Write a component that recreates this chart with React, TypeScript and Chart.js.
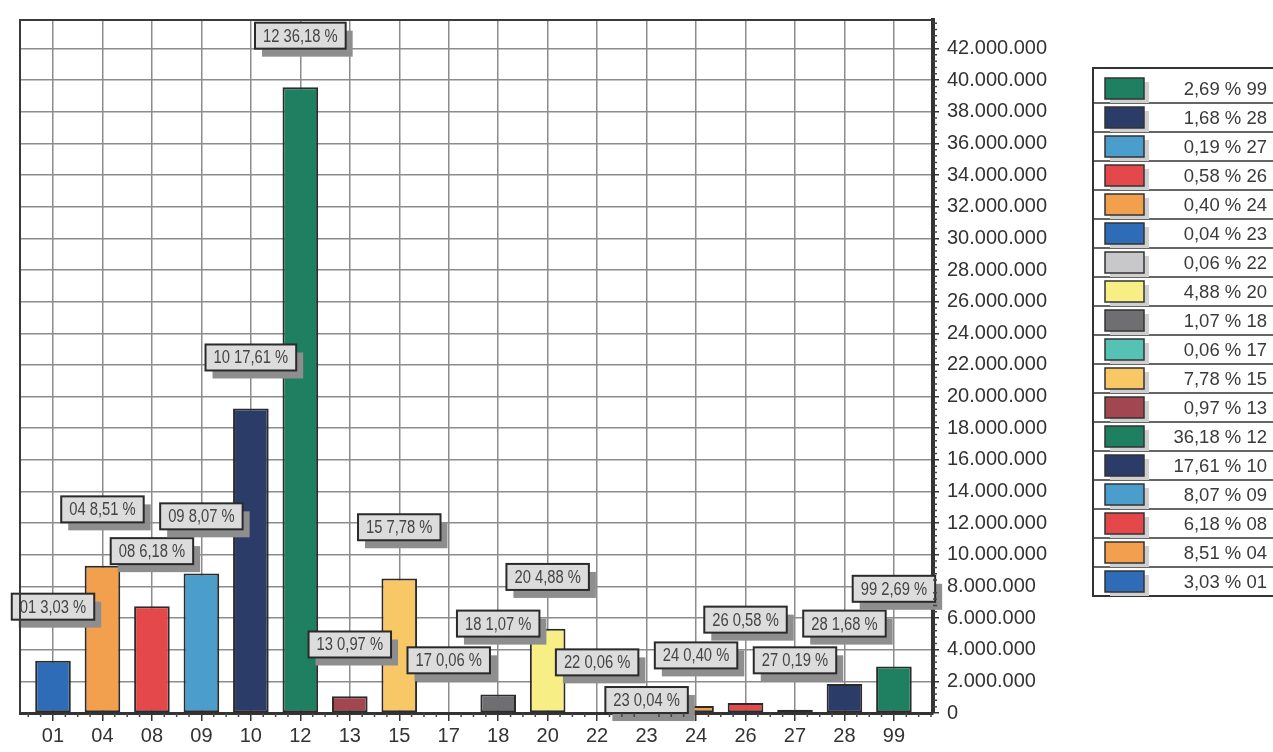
import React, { useEffect, useRef } from "react";
import { Chart, registerables } from "chart.js";
Chart.register(...registerables);

const categories = ["01", "04", "08", "09", "10", "12", "13", "15", "17", "18", "20", "22", "23", "24", "26", "27", "28", "99"];
const values = [3310000, 9300000, 6750000, 8820000, 19250000, 39550000, 1060000, 8500000, 66000, 1170000, 5330000, 66000, 44000, 437000, 634000, 208000, 1840000, 2940000];
const percentLabels = ["3,03", "8,51", "6,18", "8,07", "17,61", "36,18", "0,97", "7,78", "0,06", "1,07", "4,88", "0,06", "0,04", "0,40", "0,58", "0,19", "1,68", "2,69"];
const barColors = ["#2f6cb8", "#f2a04e", "#e5484b", "#4b9dcc", "#2c3c69", "#1f7f61", "#a2464f", "#f8c866", "#55c2b3", "#6f6f72", "#f7ef86", "#c8c8ca", "#2f6cb8", "#f2a04e", "#e5484b", "#4b9dcc", "#2c3c69", "#1f7f61"];
const yTickValues = [0, 2000000, 4000000, 6000000, 8000000, 10000000, 12000000, 14000000, 16000000, 18000000, 20000000, 22000000, 24000000, 26000000, 28000000, 30000000, 32000000, 34000000, 36000000, 38000000, 40000000, 42000000];
// vertical placement of each value box, in axis units
const labelLevels = [6720000, 12870000, 10230000, 12430000, 22470000, 42810000, 4330000, 11740000, 3330000, 5650000, 8600000, 3200000, 820000, 3640000, 5900000, 3330000, 5650000, 7850000];

const W = 1273;
const H = 752;
const AXIS_FONT = "'Liberation Sans', Arial, Helvetica, sans-serif";
const NARROW = 0.82;

function fmt(v: number): string {
  return String(Math.round(v)).replace(/\B(?=(\d{3})+(?!\d))/g, ".");
}

const decorPlugin = {
  id: "decor",
  afterDatasetsDraw(chart: any) {
    const ctx = chart.ctx as CanvasRenderingContext2D;
    const xs = chart.scales.x;
    const ys = chart.scales.y;
    ctx.save();
    ctx.font = "18px " + AXIS_FONT;
    ctx.textAlign = "center";
    ctx.textBaseline = "middle";
    categories.forEach((c, i) => {
      const text = c + " " + percentLabels[i] + " %";
      const tw = ctx.measureText(text).width * NARROW;
      const bw = tw + 16;
      const bh = 26;
      const cx = xs.getPixelForValue(i);
      const cy = ys.getPixelForValue(labelLevels[i]);
      const x0 = cx - bw / 2;
      const y0 = cy - bh / 2;
      ctx.fillStyle = "#8e8e8e";
      ctx.fillRect(x0 + 7, y0 + 8, bw, bh);
      ctx.fillStyle = "#dcdcdc";
      ctx.fillRect(x0, y0, bw, bh);
      ctx.strokeStyle = "#2a2a2a";
      ctx.lineWidth = 2;
      ctx.strokeRect(x0, y0, bw, bh);
      ctx.fillStyle = "#444";
      ctx.save();
      ctx.translate(cx, cy + 1);
      ctx.scale(NARROW, 1);
      ctx.fillText(text, 0, 0);
      ctx.restore();
    });
    ctx.restore();
  },
  afterDraw(chart: any) {
    const ctx = chart.ctx as CanvasRenderingContext2D;
    const a = chart.chartArea;
    const xs = chart.scales.x;
    const ys = chart.scales.y;
    ctx.save();
    // frame: left and top
    ctx.strokeStyle = "#3a3a3a";
    ctx.lineWidth = 2;
    ctx.beginPath();
    ctx.moveTo(a.left, a.bottom);
    ctx.lineTo(a.left, a.top);
    ctx.lineTo(a.right, a.top);
    ctx.stroke();
    // minor ticks on x
    ctx.strokeStyle = "#444";
    ctx.lineWidth = 1.5;
    ctx.beginPath();
    for (let i = -1; i < categories.length; i++) {
      for (let k = 1; k < 4; k++) {
        const v = i + k / 4;
        if (v < xs.min || v > xs.max) continue;
        const px = xs.getPixelForValue(v);
        ctx.moveTo(px, a.bottom);
        ctx.lineTo(px, a.bottom + 4);
      }
    }
    // minor ticks on y
    const step = 400000;
    for (let v = step; v < ys.max; v += step) {
      if (Math.abs(v / 2000000 - Math.round(v / 2000000)) < 1e-6) continue;
      const py = ys.getPixelForValue(v);
      ctx.moveTo(a.right, py);
      ctx.lineTo(a.right + 4, py);
    }
    ctx.stroke();

    // legend
    const lx = 1093;
    const ly = 68;
    const firstBottom = 103;
    const rowH = 29;
    const n = categories.length;
    const bottom = firstBottom + (n - 1) * rowH;
    ctx.strokeStyle = "#333";
    ctx.lineWidth = 2;
    ctx.strokeRect(lx, ly, W + 10 - lx, bottom - ly);
    ctx.lineWidth = 1.5;
    ctx.font = "18.5px " + AXIS_FONT;
    ctx.textAlign = "right";
    ctx.textBaseline = "middle";
    for (let r = 0; r < n; r++) {
      const idx = n - 1 - r;
      const rb = firstBottom + r * rowH;
      if (r < n - 1) {
        ctx.strokeStyle = "#333";
        ctx.beginPath();
        ctx.moveTo(lx, rb);
        ctx.lineTo(W, rb);
        ctx.stroke();
      }
      const cy = rb - 14.5;
      const sx = 1105;
      const sw = 39;
      const sh = 21;
      ctx.fillStyle = "#cfcfcf";
      ctx.fillRect(sx + 5, cy - sh / 2 + 4, sw, sh);
      ctx.fillStyle = barColors[idx];
      ctx.fillRect(sx, cy - sh / 2, sw, sh);
      ctx.strokeStyle = "#333";
      ctx.strokeRect(sx, cy - sh / 2, sw, sh);
      ctx.fillStyle = "#3a3a3a";
      ctx.fillText(percentLabels[idx] + " % " + categories[idx], 1267, cy + 1);
    }
    ctx.restore();
  },
};

export default function App() {
  const ref = useRef<HTMLCanvasElement | null>(null);
  useEffect(() => {
    if (!ref.current) return;
    Chart.defaults.font.family = AXIS_FONT;
    const chart = new Chart(ref.current, {
      type: "bar",
      data: {
        datasets: [
          {
            data: values.map((v, i) => ({ x: i, y: v })),
            backgroundColor: barColors,
            borderColor: "#2b2b2b",
            borderWidth: 2,
            borderSkipped: false,
            barPercentage: 0.9,
            categoryPercentage: 0.8,
          } as any,
        ],
      },
      options: {
        animation: false,
        responsive: false,
        devicePixelRatio: 1,
        layout: { padding: { left: 20, top: 16, right: 0, bottom: 0 } },
        plugins: { legend: { display: false }, tooltip: { enabled: false } },
        scales: {
          x: {
            type: "linear",
            offset: false,
            min: -0.667,
            max: 17.79,
            afterBuildTicks: (scale: any) => {
              scale.ticks = categories.map((_, i) => ({ value: i }));
            },
            afterFit: (scale: any) => {
              scale.height = H - 713;
            },
            ticks: {
              autoSkip: false,
              maxRotation: 0,
              padding: 3,
              color: "#333",
              font: { size: 20, family: AXIS_FONT },
              callback: (v: any) => categories[Math.round(Number(v))] ?? "",
            },
            grid: {
              offset: false,
              color: "#8c8c8c",
              lineWidth: 1.5,
              tickColor: "#333",
              tickLength: 8,
              tickWidth: 1.5,
            },
            border: { display: true, color: "#333", width: 3 },
          },
          y: {
            type: "linear",
            position: "right",
            min: 0,
            max: 43800000,
            afterBuildTicks: (scale: any) => {
              scale.ticks = yTickValues.map((v) => ({ value: v }));
            },
            afterFit: (scale: any) => {
              scale.width = W - 933;
            },
            ticks: {
              padding: 8,
              color: "#333",
              font: { size: 20, family: AXIS_FONT },
              callback: (v: any) => fmt(Number(v)),
            },
            grid: {
              color: "#8c8c8c",
              lineWidth: 1.5,
              tickColor: "#333",
              tickLength: 6,
              tickWidth: 1.5,
            },
            border: { display: true, color: "#333", width: 4 },
          },
        },
      },
      plugins: [decorPlugin],
    } as any);
    return () => chart.destroy();
  }, []);
  return (
    <div style={{ position: "absolute", left: 0, top: 0, width: W, height: H, background: "#fff" }}>
      <canvas ref={ref} width={W} height={H} style={{ width: W, height: H, display: "block" }} />
    </div>
  );
}
